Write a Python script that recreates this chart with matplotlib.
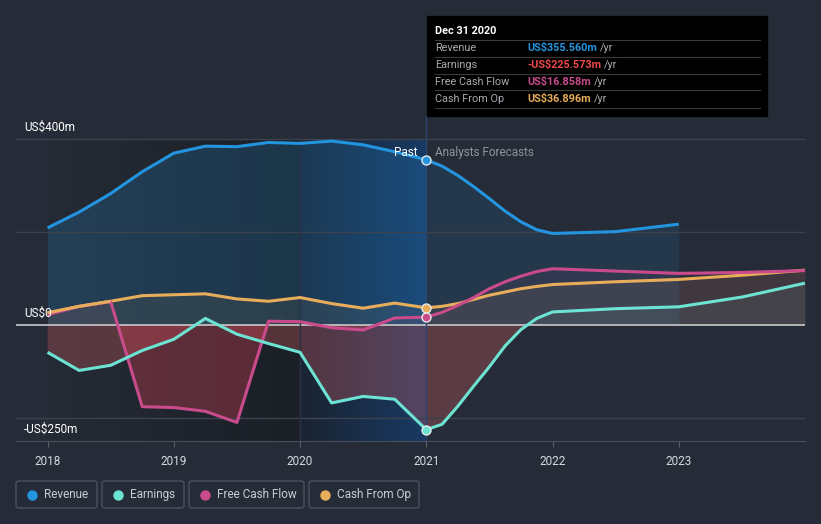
import matplotlib.pyplot as plt
import numpy as np
from matplotlib.colors import to_rgb
from matplotlib.patches import FancyBboxPatch, Rectangle
from matplotlib.lines import Line2D

plt.rcParams['font.family'] = ['Roboto', 'DejaVu Sans']

# quarterly readings, US$ m
years_past = [2018, 2018.25, 2018.5, 2018.75, 2019, 2019.25, 2019.5, 2019.75,
              2020, 2020.25, 2020.5, 2020.75, 2021]
revenue_past = [209, 243, 283, 330, 370, 385, 384, 393, 391, 396, 388, 373, 355.56]
earnings_past = [-59, -98, -87, -55, -31, 14, -20, -40, -59, -168, -154, -160, -225.573]
fcf_past = [22, 40, 50, -176, -178, -186, -210, 8, 7, -6, -11, 15, 16.858]
cfo_past = [26, 40, 51, 63, 65, 67, 56, 51, 59, 46, 36, 47, 36.896]

years_rev_fc = [2021, 2021.125, 2021.25, 2021.375, 2021.5, 2021.625, 2021.75,
                2021.875, 2022, 2022.5, 2023]
revenue_fc = [355.56, 342, 322, 298, 272, 245, 222, 205, 197, 201, 217]
years_fc = [2021, 2021.125, 2021.25, 2021.375, 2021.5, 2021.625, 2021.75,
            2021.875, 2022, 2022.5, 2023, 2023.5, 2024]
earnings_fc = [-225.573, -214, -175, -132, -90, -45, -10, 14, 28, 35, 39, 60, 90]
fcf_fc = [16.858, 27, 42, 59, 78, 93, 105, 115, 121, 116, 111, 113, 117]
cfo_fc = [36.896, 40, 46, 55, 64, 71, 78, 83, 87, 93, 98, 107, 118]

year_ticks = [2018, 2019, 2020, 2021, 2022, 2023]
y_labels = {400: 'US$400m', 0: 'US$0', -250: '-US$250m'}

BG = '#262c37'
C_REV = '#2394df'
C_EARN = '#6de3d3'
C_FCF = '#c94b8c'
C_CFO = '#e8ad5a'
C_NEG = '#e0414a'

fig = plt.figure(figsize=(8.21, 5.24), dpi=100)
fig.patch.set_facecolor(BG)
ax = fig.add_axes([16 / 821, 83 / 524, 789 / 821, (441 - 116) / 524])
ax.set_facecolor(BG)
ymin, ymax = -250, 450


def hgrad(x0, x1, c0, c1, top):
    a, b = np.array(to_rgb(c0)), np.array(to_rgb(c1))
    t = np.linspace(0, 1, 200)[None, :, None]
    img = a + (b - a) * t
    ax.imshow(img, extent=[x0, x1, ymin, top], aspect='auto', zorder=0,
              interpolation='bilinear')


# past background and highlighted last year
hgrad(years_past[0], 2020, '#252b35', '#1b1f26', 400)
hgrad(2020, years_past[-1], '#1b2331', '#183a64', 400)

# area fills
def fill(x, y, c, a, neg=0.27):
    ax.fill_between(x, y, 0, color=c, alpha=a, lw=0, zorder=1)
    ax.fill_between(x, y, 0, where=np.array(y) < 0, interpolate=True,
                    color=C_NEG, alpha=neg, lw=0, zorder=1)


fill(years_past, revenue_past, C_REV, 0.2)
fill(years_rev_fc, revenue_fc, C_REV, 0.12)
for xs, ys, c in [(years_past, earnings_past, C_EARN), (years_fc, earnings_fc, C_EARN),
                  (years_past, fcf_past, C_FCF), (years_fc, fcf_fc, C_FCF),
                  (years_past, cfo_past, C_CFO), (years_fc, cfo_fc, C_CFO)]:
    fill(xs, ys, c, 0.08)

# grid
for v in [400, 200, -200]:
    ax.axhline(v, color='#3c424e', lw=1, zorder=2)
ax.axhline(0, color='#c9c9c9', lw=1.4, alpha=0.85, zorder=2)
ax.plot([2020, 2020], [ymin, 400], color='#27334a', lw=1, zorder=2)
ax.axvline(2021, color='#2a4670', lw=1, zorder=2)

# lines
kw = dict(lw=2.2, solid_capstyle='butt', solid_joinstyle='round', zorder=4)
ax.plot(years_past, cfo_past, color=C_CFO, **kw)
ax.plot(years_fc, cfo_fc, color=C_CFO, **kw)
ax.plot(years_past, fcf_past, color=C_FCF, **kw)
ax.plot(years_fc, fcf_fc, color=C_FCF, **kw)
ax.plot(years_past, earnings_past, color=C_EARN, **kw)
ax.plot(years_fc, earnings_fc, color=C_EARN, **kw)
ax.plot(years_past, revenue_past, color=C_REV, **kw)
ax.plot(years_rev_fc, revenue_fc, color=C_REV, **kw)
ax.plot(years_past[:3], cfo_past[:3], color=C_CFO, **kw)

for v, c in [(revenue_past[-1], C_REV), (earnings_past[-1], C_EARN),
             (fcf_past[-1], C_FCF), (cfo_past[-1], C_CFO)]:
    ax.scatter([years_past[-1]], [v], s=42, color=c, edgecolor='#e8e8e8',
               linewidth=1, zorder=5)

ax.text(years_past[-1] - 0.07, 371, 'Past', color='white', fontsize=8.5,
        ha='right', va='center', zorder=6)
ax.text(years_past[-1] + 0.07, 371, 'Analysts Forecasts', color='#8e939c',
        fontsize=8.5, ha='left', va='center', zorder=6)

for v, s in y_labels.items():
    ax.text(2017.815, v + 12, s, color='white', fontsize=8.5,
            ha='left', va='bottom', zorder=6)

ax.set_xlim(2017.75, 2024.0)
ax.set_ylim(ymin, ymax)
ax.set_xticks(year_ticks)
ax.set_xticklabels([str(y) for y in year_ticks])
ax.set_yticks([])
ax.tick_params(axis='x', colors='#5a606b', labelcolor='#d8dadf', labelsize=8.5,
               length=4, pad=6)
for s in ['top', 'right', 'left']:
    ax.spines[s].set_visible(False)
ax.spines['bottom'].set_color('#4a505b')

# tooltip
W, H = 821, 524
def fx(px):
    return px / W
def fy(py):
    return 1 - py / H

fig.add_artist(Rectangle((fx(427), fy(116)), 340 / W, 100 / H,
                         transform=fig.transFigure, color='black', zorder=10))
fig.text(fx(435), fy(31), 'Dec 31 2020', color='white', fontsize=7.8,
         fontweight='bold', va='center', zorder=11)
rows = [('Revenue', 'US$355.560m', '#2394df'),
        ('Earnings', '-US$225.573m', '#f04848'),
        ('Free Cash Flow', 'US$16.858m', '#c94b8c'),
        ('Cash From Op', 'US$36.896m', '#e8ad5a')]
for i, (name, val, c) in enumerate(rows):
    y = 48 + 17 * i
    fig.add_artist(Line2D([fx(435), fx(760)], [fy(y - 8.5), fy(y - 8.5)],
                          transform=fig.transFigure, color='#3a3a3a', lw=0.8, zorder=11))
    fig.text(fx(435), fy(y), name, color='#a8abb0', fontsize=7.8, va='center', zorder=11)
    t = fig.text(fx(527), fy(y), val, color=c, fontsize=7.8, fontweight='bold',
                 va='center', zorder=11)
    fig.canvas.draw()
    bb = t.get_window_extent()
    fig.text(bb.x1 / W + 3 / W, fy(y), '/yr', color='#a8abb0', fontsize=7.8,
             va='center', zorder=11)
fig.add_artist(Line2D([fx(435), fx(760)], [fy(108.5), fy(108.5)],
                      transform=fig.transFigure, color='#3a3a3a', lw=0.8, zorder=11))

# legend
legend = [('Revenue', C_REV, 16, 97), ('Earnings', C_EARN, 102, 184),
          ('Free Cash Flow', C_FCF, 189, 304), ('Cash From Op', C_CFO, 309, 419)]
for name, c, x0, x1 in legend:
    fig.add_artist(FancyBboxPatch((fx(x0), fy(508)), (x1 - x0) / W, 27 / H,
                                  boxstyle='round,pad=0,rounding_size=0.004',
                                  transform=fig.transFigure, facecolor='none',
                                  edgecolor='#4c525d', lw=1))
    fig.add_artist(Line2D([fx(x0 + 16)], [fy(494.5)], marker='o', ms=6.5,
                          color=c, transform=fig.transFigure))
    fig.text(fx(x0 + 28), fy(494.5), name, color='#c9ccd1', fontsize=8.5, va='center')

fig.savefig('out.png', dpi=100, facecolor=BG)
